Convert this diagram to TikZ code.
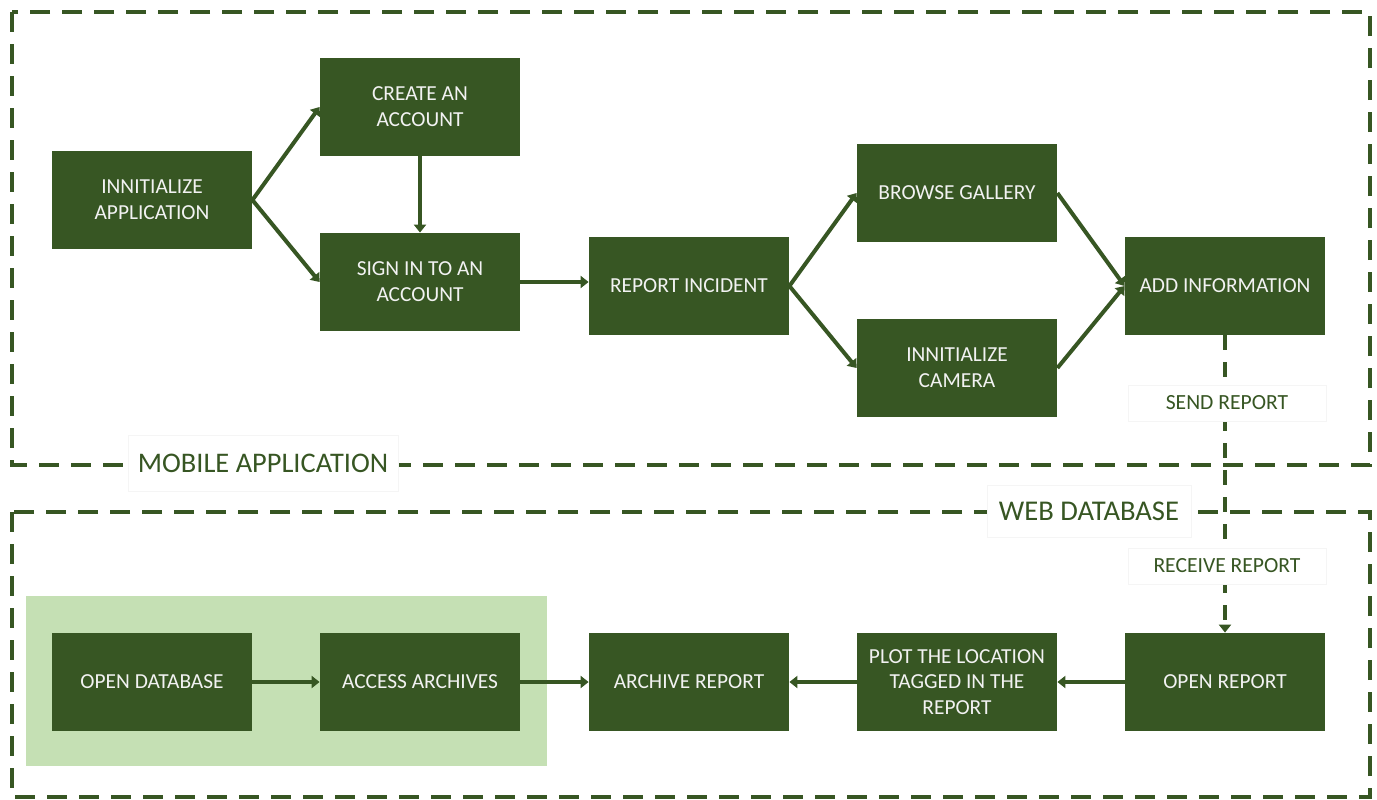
\documentclass[tikz,border=0pt]{standalone}
\usepackage{fontspec}
\setmainfont{Carlito}
\usetikzlibrary{arrows.meta}
\definecolor{dkgreen}{HTML}{375623}
\definecolor{ltgreen}{HTML}{C5E0B4}
\definecolor{txtwhite}{HTML}{F2F2F2}
\tikzset{
  stepbox/.style={fill=dkgreen, draw=none, minimum width=100pt, minimum height=49pt, inner sep=0pt,
    text=txtwhite, align=center, font=\fontsize{10.7}{12.9}\selectfont},
  flow/.style={draw=dkgreen, line width=2pt, -{Triangle[width=6pt,length=4pt]}},
  dflow/.style={draw=dkgreen, line width=1.6pt, dash pattern=on 7.5pt off 6pt, -{Triangle[width=6pt,length=4pt]}},
  zone/.style={draw=dkgreen, line width=2pt, dash pattern=on 10pt off 6pt},
  tag/.style={fill=white, draw=black!4, line width=0.4pt, text=dkgreen, inner sep=0pt},
}
\begin{document}
\begin{tikzpicture}[x=0.5pt,y=-0.5pt]
\useasboundingbox (0,0) rectangle (1377,799);
% zones
\fill[ltgreen] (26,596) rectangle (547,766);
\draw[zone] (12,12) rectangle (1370,465);
\draw[zone] (12,512) rectangle (1370,797);
\node[tag, minimum width=135pt, minimum height=28pt, font=\fontsize{14.2}{17}\selectfont] (mob) at (263,463) {MOBILE APPLICATION};
\node[tag, minimum width=102pt, minimum height=26pt, font=\fontsize{14.3}{17}\selectfont] (web) at (1089,511) {WEB DATABASE};
% nodes
\node[stepbox] (init) at (152,200) {INNITIALIZE\\APPLICATION};
\node[stepbox] (create) at (420,107) {CREATE AN\\ACCOUNT};
\node[stepbox] (signin) at (420,282) {SIGN IN TO AN\\ACCOUNT};
\node[stepbox] (report) at (689,286) {REPORT INCIDENT};
\node[stepbox] (browse) at (957,193) {BROWSE GALLERY};
\node[stepbox] (camera) at (957,368) {INNITIALIZE\\CAMERA};
\node[stepbox] (addinfo) at (1225,286) {ADD INFORMATION};
\node[stepbox] (openrep) at (1225,682) {OPEN REPORT};
\node[stepbox] (plot) at (957,682) {PLOT THE LOCATION\\TAGGED IN THE\\REPORT};
\node[stepbox] (archrep) at (689,682) {ARCHIVE REPORT};
\node[stepbox] (access) at (420,682) {ACCESS ARCHIVES};
\node[stepbox] (opendb) at (152,682) {OPEN DATABASE};
% connectors
\draw[flow] (init.east) -- (create.west);
\draw[flow] (init.east) -- (signin.west);
\draw[flow] (create.south) -- (signin.north);
\draw[flow] (signin.east) -- (signin.east -| report.west);
\draw[flow] (report.east) -- (browse.west);
\draw[flow] (report.east) -- (camera.west);
\draw[flow] (browse.east) -- (addinfo.west);
\draw[flow] (camera.east) -- (addinfo.west);
\draw[dflow] (addinfo.south) -- (openrep.north);
\draw[flow] (opendb.east) -- (access.west);
\draw[flow] (access.east) -- (archrep.west);
\draw[flow] (plot.west) -- (archrep.east);
\draw[flow] (openrep.west) -- (plot.east);
% connector labels
\node[tag, minimum width=99pt, minimum height=18pt, font=\fontsize{10.8}{12}\selectfont] (send) at (1227,403) {SEND REPORT};
\node[tag, minimum width=99pt, minimum height=18pt, font=\fontsize{10.8}{12}\selectfont] (recv) at (1227,566) {RECEIVE REPORT};
\end{tikzpicture}
\end{document}
